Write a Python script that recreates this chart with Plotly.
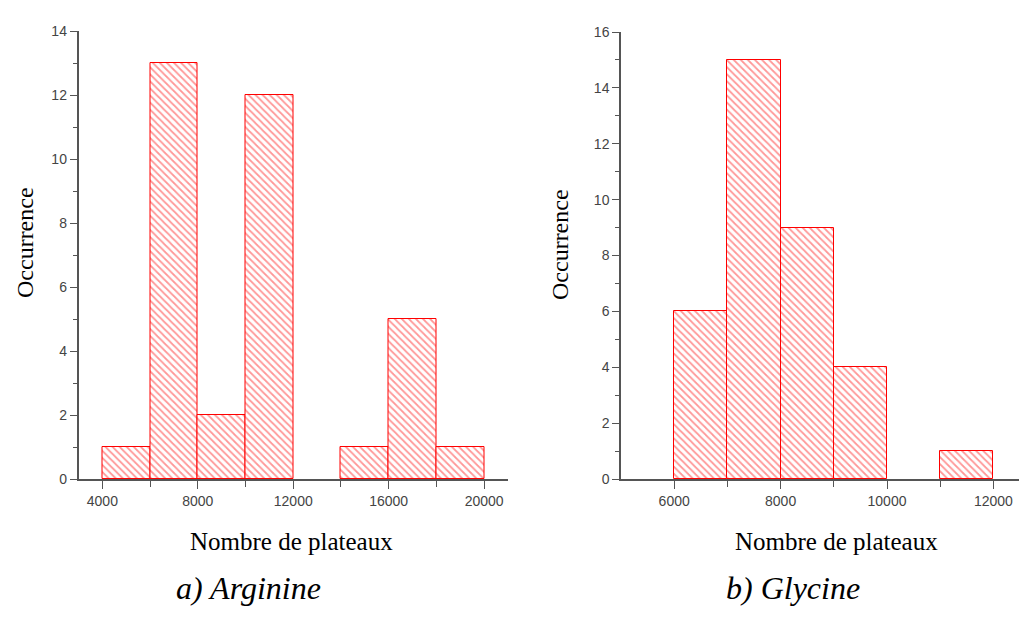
import plotly.graph_objects as go

# ---- data ----
arg_bin_start = [4000, 6000, 8000, 10000, 14000, 16000, 18000]
arg_counts = [1, 13, 2, 12, 1, 5, 1]
arg_bin_width = 2000

gly_bin_start = [6000, 7000, 8000, 9000, 11000]
gly_counts = [6, 15, 9, 4, 1]
gly_bin_width = 1000

arg_xticks = [4000, 8000, 12000, 16000, 20000]
gly_xticks = [6000, 8000, 10000, 12000]
arg_yticks = [0, 2, 4, 6, 8, 10, 12, 14]
gly_yticks = [0, 2, 4, 6, 8, 10, 12, 14, 16]

x_title = "Nombre de plateaux"
y_title = "Occurrence"
captions = ["a) Arginine", "b) Glycine"]

W, H = 1027, 620
def py(px):
    return 1 - px / H
def px_x(px):
    return px / W

RED = "#ff0000"
AX = "#555555"
TICKFONT = dict(family="Liberation Sans Narrow, Arial Narrow, Liberation Sans, Arial", size=14, color="#444444")
SERIF = "Liberation Serif, Times New Roman, serif"

fig = go.Figure()

def bar_trace(starts, counts, width, xa, ya):
    return go.Bar(
        x=[s + width / 2 for s in starts], y=counts, width=width,
        marker=dict(color=RED,
                    line=dict(color=RED, width=1),
                    pattern=dict(shape="\\", size=5, solidity=0.35,
                                 fgcolor="#ff3030", bgcolor="white")),
        xaxis=xa, yaxis=ya, showlegend=False, hoverinfo="x+y")

fig.add_trace(bar_trace(arg_bin_start, arg_counts, arg_bin_width, "x", "y"))
fig.add_trace(bar_trace(gly_bin_start, gly_counts, gly_bin_width, "x2", "y2"))

common_x = dict(showline=True, linecolor=AX, linewidth=1.5, ticks="outside", ticklen=8,
                tickcolor=AX, tickwidth=1.2, showgrid=False, zeroline=False,
                tickfont=TICKFONT, fixedrange=True, automargin=False, layer="above traces")
common_y = dict(showline=True, linecolor=AX, linewidth=1.5, ticks="outside", ticklen=7,
                tickcolor=AX, tickwidth=1.2, showgrid=False, zeroline=False,
                tickfont=TICKFONT, fixedrange=True, automargin=False, layer="above traces")

fig.update_layout(
    width=W, height=H,
    margin=dict(l=0, r=0, t=0, b=0),
    paper_bgcolor="white", plot_bgcolor="white",
    bargap=0,
    xaxis=dict(domain=[px_x(70.5), px_x(500)], range=[3000, 21000], anchor="y",
               tickmode="array", tickvals=arg_xticks, ticktext=[str(v) for v in arg_xticks],
               minor=dict(tickvals=[6000, 10000, 14000, 18000], ticks="outside", ticklen=6,
                          tickcolor=AX, tickwidth=1.2),
               **common_x),
    yaxis=dict(domain=[py(471), py(23)], range=[0, 14], anchor="x",
               tickmode="array", tickvals=arg_yticks, ticktext=[str(v) for v in arg_yticks],
               minor=dict(dtick=1, tick0=0, ticks="outside", ticklen=4, tickcolor=AX, tickwidth=1.2),
               **common_y),
    xaxis2=dict(domain=[px_x(613), 1.0], range=[5000, 12782], anchor="y2",
                tickmode="array", tickvals=gly_xticks, ticktext=[str(v) for v in gly_xticks],
                minor=dict(tickvals=[7000, 9000, 11000], ticks="outside", ticklen=6,
                           tickcolor=AX, tickwidth=1.2),
                **common_x),
    yaxis2=dict(domain=[py(471), py(24)], range=[0, 16], anchor="x2",
                tickmode="array", tickvals=gly_yticks, ticktext=[str(v) for v in gly_yticks],
                minor=dict(dtick=1, tick0=0, ticks="outside", ticklen=4, tickcolor=AX, tickwidth=1.2),
                **common_y),
)

ann = []
for cx in (283, 828):
    ann.append(dict(text=x_title, x=px_x(cx), y=py(533), xref="paper", yref="paper",
                    showarrow=False, xanchor="center", yanchor="middle",
                    font=dict(family=SERIF, size=25, color="black")))
for cx, cy in ((17, 235), (552, 237)):
    ann.append(dict(text=y_title, x=px_x(cx), y=py(cy), xref="paper", yref="paper",
                    showarrow=False, xanchor="center", yanchor="middle", textangle=-90,
                    font=dict(family=SERIF, size=24, color="black")))
for cap, cx in zip(captions, (240, 785)):
    ann.append(dict(text="<i>" + cap + "</i>", x=px_x(cx), y=py(580), xref="paper", yref="paper",
                    showarrow=False, xanchor="center", yanchor="middle",
                    font=dict(family=SERIF, size=32, color="black")))
fig.update_layout(annotations=ann)

fig.write_html("out.html")
